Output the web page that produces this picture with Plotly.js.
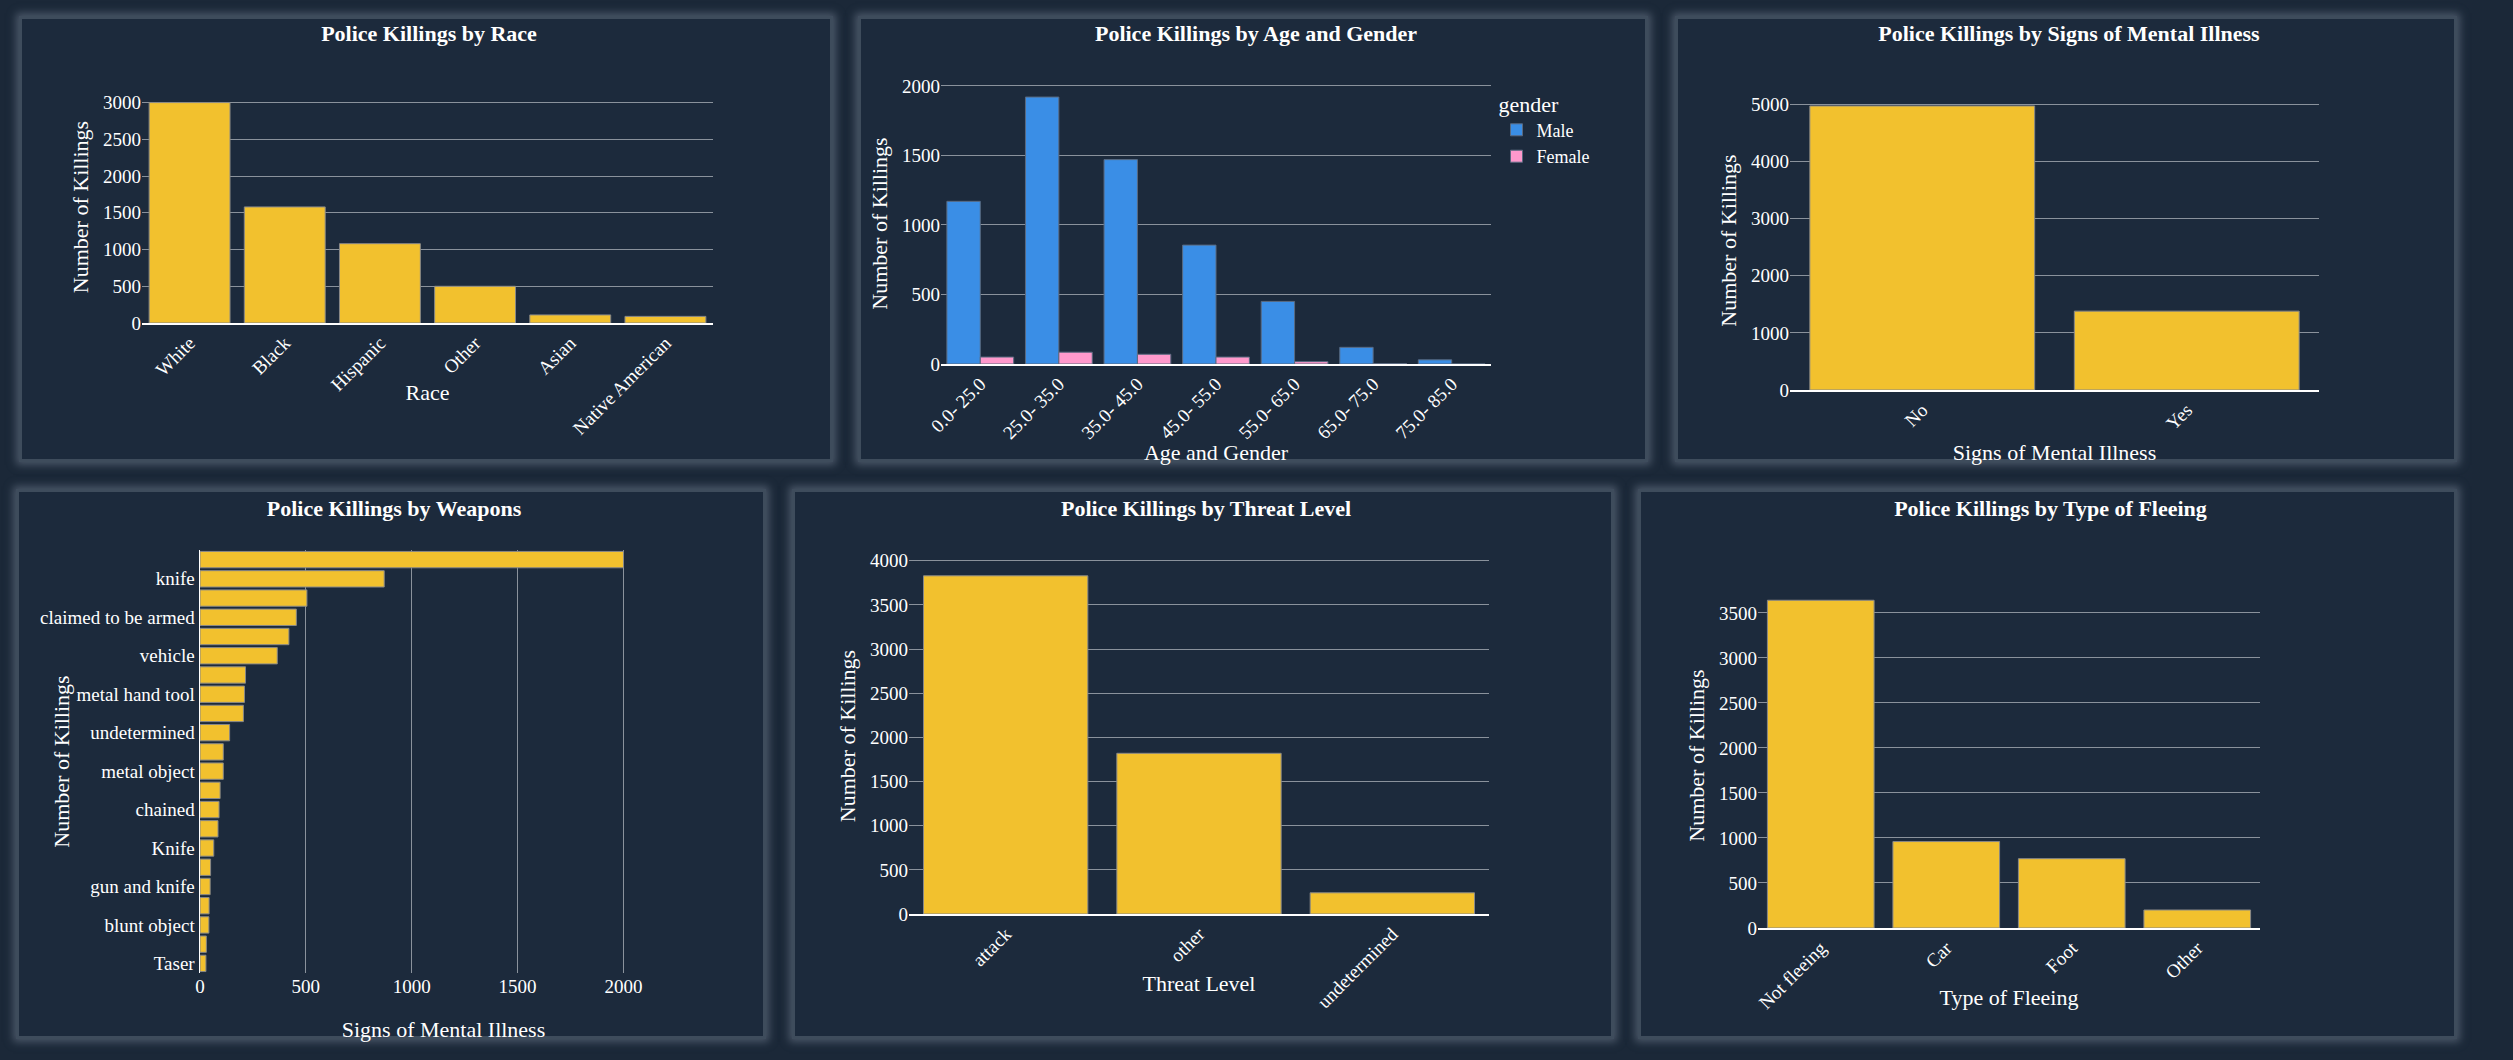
<!DOCTYPE html>
<html>
<head>
<meta charset="utf-8">
<script src="https://cdn.plot.ly/plotly-3.0.1.min.js"></script>
<style>
  body { margin: 0; background: #1b2838; width: 2513px; height: 1060px; overflow: hidden; }
  .panel { position: absolute; background: #1c2a3c; border: 3px solid #3e4c5c;
           box-shadow: 0 0 8px 3px #4a5768; box-sizing: border-box; }
</style>
</head>
<body>
<div id="race" class="panel" style="left:19px;top:16px;width:814px;height:446px"></div>
<div id="age" class="panel" style="left:858px;top:16px;width:790px;height:446px"></div>
<div id="mental" class="panel" style="left:1675px;top:16px;width:782px;height:446px"></div>
<div id="weapons" class="panel" style="left:16px;top:489px;width:750px;height:550px"></div>
<div id="threat" class="panel" style="left:792px;top:489px;width:822px;height:550px"></div>
<div id="flee" class="panel" style="left:1638px;top:489px;width:819px;height:550px"></div>
<script>
// data
var race_cats = ['White', 'Black', 'Hispanic', 'Other', 'Asian', 'Native American']
var race_vals = [3000, 1580, 1080, 500, 110, 90]

var age_cats = ['0.0- 25.0', '25.0- 35.0', '35.0- 45.0', '45.0- 55.0', '55.0- 65.0', '65.0- 75.0', '75.0- 85.0']
var age_male = [1170, 1920, 1470, 855, 450, 120, 30]
var age_female = [50, 85, 70, 50, 17, 3, 0]

var mental_cats = ['No', 'Yes']
var mental_vals = [4970, 1380]

var weapon_cats = ['gun', 'knife', 'unarmed', 'claimed to be armed', 'toy weapon', 'vehicle',
  'unknown weapon', 'metal hand tool', 'replica', 'undetermined', 'machete', 'metal object',
  'sword', 'chained', 'hatchet', 'Knife', 'screwdriver', 'gun and knife', 'ax', 'blunt object',
  'baseball bat', 'Taser']
var weapon_vals = [2000, 870, 505, 455, 420, 365, 215, 210, 205, 140, 110, 110,
  95, 90, 85, 65, 50, 48, 43, 42, 30, 28]

var threat_cats = ['attack', 'other', 'undetermined']
var threat_vals = [3830, 1820, 240]

var flee_cats = ['Not fleeing', 'Car', 'Foot', 'Other']
var flee_vals = [3640, 960, 770, 200]

var yellow = '#f2c12e'
var fnt = 'Liberation Serif, Times New Roman, serif'
var options = { displayModeBar: false, staticPlot: true }

function base_layout(title, xt, yt, margin) {
  return {
    title: { text: '<b>' + title + '</b>', x: 0.5, y: 0.985, yanchor: 'top', font: { size: 22, color: '#ffffff', family: fnt } },
    paper_bgcolor: 'rgba(0,0,0,0)',
    plot_bgcolor: 'rgba(0,0,0,0)',
    font: { family: fnt, color: '#ffffff', size: 19 },
    margin: margin,
    showlegend: false,
    xaxis: { title: { text: xt, font: { size: 22 } }, tickangle: -45, showgrid: false, showline: true, linecolor: '#ffffff', linewidth: 1.5 },
    yaxis: { title: { text: yt, font: { size: 22 } }, gridcolor: '#8a929c', zeroline: false }
  }
}

function bar_trace(cats, vals) {
  return { type: 'bar', x: cats, y: vals, marker: { color: yellow, line: { color: '#888888', width: 1 } } }
}

// race
var l = base_layout('Police Killings by Race', 'Race', 'Number of Killings', { l: 120, r: 123, t: 72, b: 142 })
l.bargap = 0.15
Plotly.newPlot('race', [bar_trace(race_cats, race_vals)], l, options)

// age and gender
l = base_layout('Police Killings by Age and Gender', 'Age and Gender', 'Number of Killings', { l: 80, r: 160, t: 64, b: 101 })
l.showlegend = true
l.barmode = 'group'
l.bargap = 0.15
l.legend = { title: { text: 'gender' }, x: 1.01, y: 1, font: { size: 18 } }
Plotly.newPlot('age', [
  { type: 'bar', name: 'Male', x: age_cats, y: age_male, marker: { color: '#3a8ee6', line: { color: '#5a6a80', width: 1 } } },
  { type: 'bar', name: 'Female', x: age_cats, y: age_female, marker: { color: '#ff99cc', line: { color: '#5a6a80', width: 1 } } }
], l, options)

// mental illness
l = base_layout('Police Killings by Signs of Mental Illness', 'Signs of Mental Illness', 'Number of Killings', { l: 112, r: 141, t: 72, b: 75 })
l.bargap = 0.15
Plotly.newPlot('mental', [bar_trace(mental_cats, mental_vals)], l, options)

// weapons (horizontal)
l = base_layout('Police Killings by Weapons', 'Signs of Mental Illness', 'Number of Killings', { l: 181, r: 82, t: 58, b: 69 })
l.bargap = 0.15
l.xaxis = { title: { text: 'Signs of Mental Illness', font: { size: 22 } }, gridcolor: '#8a929c', zeroline: false, range: [0, 2300], dtick: 500 }
l.yaxis = { title: { text: 'Number of Killings', font: { size: 22 } }, autorange: 'reversed', showline: true, linecolor: '#ffffff', linewidth: 1.5,
  tickmode: 'array', tickvals: weapon_cats.filter(function (c, i) { return i % 2 == 1 }), ticks: '' }
Plotly.newPlot('weapons', [{ type: 'bar', orientation: 'h', x: weapon_vals, y: weapon_cats,
  marker: { color: yellow, line: { color: '#888888', width: 1 } } }], l, options)

// threat
l = base_layout('Police Killings by Threat Level', 'Threat Level', 'Number of Killings', { l: 114, r: 128, t: 66, b: 128 })
l.bargap = 0.15
Plotly.newPlot('threat', [bar_trace(threat_cats, threat_vals)], l, options)

// fleeing
l = base_layout('Police Killings by Type of Fleeing', 'Type of Fleeing', 'Number of Killings', { l: 117, r: 200, t: 91, b: 114 })
l.bargap = 0.15
Plotly.newPlot('flee', [bar_trace(flee_cats, flee_vals)], l, options)
</script>
</body>
</html>
